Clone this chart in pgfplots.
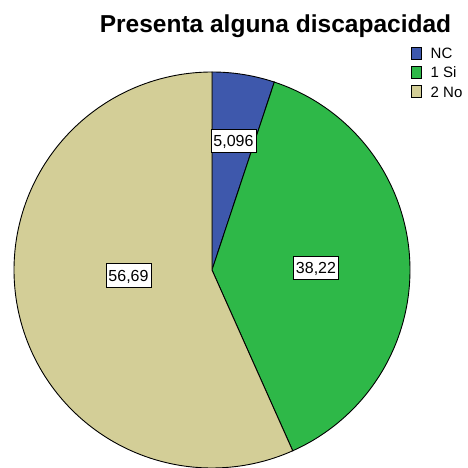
\documentclass[border=0pt]{standalone}
\usepackage{pgfplots}
\pgfplotsset{compat=1.18}
\usepackage{fontspec}
\setmainfont{Liberation Sans}
\definecolor{cNC}{RGB}{62,88,172}
\definecolor{cSi}{RGB}{46,184,72}
\definecolor{cNo}{RGB}{211,206,151}
% data (percent)
\def\vNC{5.096}
\def\vSi{38.22}
\def\vNo{56.69}
\pgfmathsetmacro{\aA}{90}
\pgfmathsetmacro{\aB}{90-3.6*\vNC}
\pgfmathsetmacro{\aC}{\aB-3.6*\vSi}
\pgfmathsetmacro{\aD}{90-360}
\begin{document}
\begin{tikzpicture}
\begin{axis}[
  scale only axis, width=467pt, height=468pt,
  xmin=0, xmax=467, ymin=0, ymax=468,
  axis lines=none, clip=false,
  anchor=south west, at={(0,0)},
  legend cell align=left,
  legend image code/.code={\draw[#1,draw=black,line width=0.8pt] (0pt,-6pt) rectangle (10pt,6pt);},
  legend style={at={(axis cs:411.2,421.4)}, anchor=north west, draw=none, fill=none,
    font=\fontsize{15}{17}\selectfont, row sep=6.5pt, column sep=8.5pt, inner sep=0pt,
    nodes={inner sep=0pt, text height=10.8pt, text depth=0pt}},
]
\addplot[fill=cNC, draw=black, line width=0.9pt, domain=\aB:\aA, samples=40, variable=\t]
  ({212+198*cos(\t)},{198+198*sin(\t)}) -- (axis cs:212,198) -- cycle;
\addlegendentry{NC}
\addplot[fill=cSi, draw=black, line width=0.9pt, domain=\aC:\aB, samples=120, variable=\t]
  ({212+198*cos(\t)},{198+198*sin(\t)}) -- (axis cs:212,198) -- cycle;
\addlegendentry{1 Si}
\addplot[fill=cNo, draw=black, line width=0.9pt, domain=\aD:\aC, samples=180, variable=\t]
  ({212+198*cos(\t)},{198+198*sin(\t)}) -- (axis cs:212,198) -- cycle;
\addlegendentry{2 No}
\node[anchor=base, font=\fontsize{24.5}{28}\selectfont\bfseries] at (axis cs:275.5,435) {Presenta alguna discapacidad};
\tikzset{lbl/.style={draw=black, fill=white, line width=0.8pt, inner xsep=2.5pt, inner ysep=6pt, text height=11.5pt, text depth=0pt, font=\fontsize{16}{18}\selectfont}}
\node[lbl] at (axis cs:233.5,327) {5,096};
\node[lbl] at (axis cs:316,200) {38,22};
\node[lbl] at (axis cs:128.5,192.5) {56,69};
\end{axis}
\pgfresetboundingbox
\path (0,0) rectangle (467pt,468pt);
\end{tikzpicture}
\end{document}
